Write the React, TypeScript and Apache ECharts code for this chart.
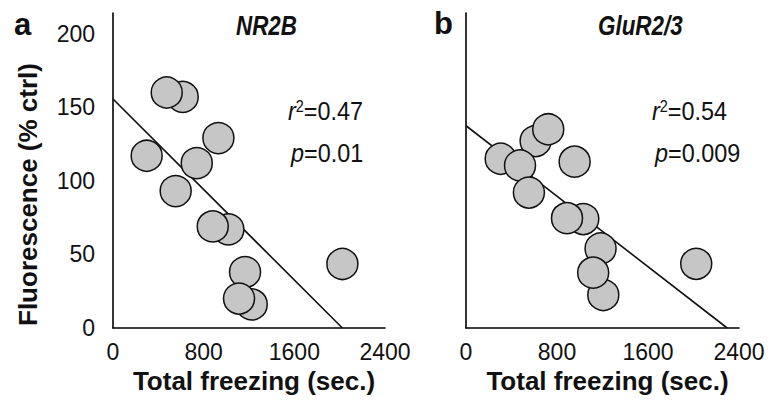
import React, { useEffect, useRef } from "react";
import * as echarts from "echarts";

// NR2B panel (a)
const nr2bFreezing = [615, 474, 930, 297, 739, 553, 1018, 880, 2024, 1165, 1224, 1112];
const nr2bFluor = [157, 160, 129, 117, 112, 93, 67, 69, 43.5, 38, 16, 20];
const nr2bFitX = [0, 2024];
const nr2bFitY = [155.6, 0];

// GluR2/3 panel (b)
const gluFreezing = [612, 723, 305, 475, 955, 553, 1031, 888, 1207, 1183, 1118, 2024];
const gluFluor = [127, 135, 115, 110.4, 113, 92, 74, 74.6, 22.4, 54, 37.6, 43.6];
const gluFitX = [0, 2296];
const gluFitY = [137.4, 0];

const xTicks = [0, 800, 1600, 2400];
const yTicks = [0, 50, 100, 150, 200];
const panelTitles = ["NR2B", "GluR2/3"];
const panelLetters = ["a", "b"];
const stats = [
  { r2: "0.47", p: "0.01" },
  { r2: "0.54", p: "0.009" },
];

const SANS = "'Liberation Sans', Arial, sans-serif";

export default function App() {
  const ref = useRef<HTMLDivElement>(null);
  useEffect(() => {
    if (!ref.current) return;
    const chart = echarts.init(ref.current, null, { renderer: "svg" });
    const axisLine = { show: true, lineStyle: { color: "#000", width: 1.6 } };
    const mkX = (gridIndex: number) => ({
      type: "value",
      gridIndex,
      min: xTicks[0],
      max: xTicks[xTicks.length - 1],
      interval: 800,
      axisLine,
      axisTick: { show: false },
      splitLine: { show: false },
      axisLabel: {
        fontFamily: SANS,
        fontSize: 23,
        color: "#111",
        margin: 12,
        formatter: (v: number) => String(v),
      },
      name: "Total freezing (sec.)",
      nameLocation: "middle",
      nameGap: 40,
      nameTextStyle: { fontFamily: SANS, fontWeight: "bold", fontSize: 26, color: "#111", padding: [0, 0, 0, 10] },
    });
    const mkY = (gridIndex: number, showLabels: boolean) => ({
      type: "value",
      gridIndex,
      min: 0,
      max: 214,
      interval: 50,
      axisLine,
      axisTick: { show: false },
      splitLine: { show: false },
      axisLabel: {
        show: showLabels,
        showMaxLabel: false,
        fontFamily: SANS,
        fontSize: 23,
        color: "#111",
        margin: 18,
        formatter: (v: number) => (yTicks.includes(v) ? String(v) : ""),
      },
      name: showLabels ? "Fluorescence (% ctrl)" : "",
      nameLocation: "middle",
      nameGap: 72,
      nameTextStyle: { fontFamily: SANS, fontWeight: "bold", fontSize: 26, color: "#111", padding: [0, 48, 0, 0] },
    });
    const scatter = (xs: number[], ys: number[], idx: number) => ({
      type: "scatter",
      xAxisIndex: idx,
      yAxisIndex: idx,
      symbol: "circle",
      symbolSize: 31,
      z: 3,
      itemStyle: { color: "#c6c6c6", borderColor: "#111", borderWidth: 1.5, opacity: 1 },
      data: xs.map((x, i) => [x, ys[i]]),
    });
    const fit = (xs: number[], ys: number[], idx: number) => ({
      type: "line",
      xAxisIndex: idx,
      yAxisIndex: idx,
      symbol: "none",
      z: 2,
      lineStyle: { color: "#111", width: 1.6 },
      data: xs.map((x, i) => [x, ys[i]]),
    });
    const statText = (s: { r2: string; p: string }, x: number) => [
      {
        type: "text",
        x: x,
        y: 98,
        scaleX: 0.9,
        style: {
          text: "{i|r}{sup|2}{n|=" + s.r2 + "}",
          rich: {
            i: { fontFamily: SANS, fontStyle: "italic", fontSize: 26, fill: "#111" },
            sup: { fontFamily: SANS, fontSize: 16, fill: "#111", verticalAlign: "top", padding: [0, 0, 10, 0] },
            n: { fontFamily: SANS, fontSize: 26, fill: "#111" },
          },
        },
      },
      {
        type: "text",
        x: x + 3,
        y: 140,
        scaleX: 0.9,
        style: {
          text: "{i|p}{n|=" + s.p + "}",
          rich: {
            i: { fontFamily: SANS, fontStyle: "italic", fontSize: 26, fill: "#111" },
            n: { fontFamily: SANS, fontSize: 26, fill: "#111" },
          },
        },
      },
    ];
    const titleStyle = (t: string) => ({
      text: t,
      fontFamily: SANS,
      fontStyle: "italic",
      fontWeight: "bold",
      fontSize: 28,
      fill: "#111",
    });
    chart.setOption({
      animation: false,
      backgroundColor: "#fff",
      grid: [
        { left: 113, top: 13, width: 272, height: 315 },
        { left: 466, top: 13, width: 273, height: 315 },
      ],
      xAxis: [mkX(0), mkX(1)],
      yAxis: [mkY(0, true), mkY(1, false)],
      series: [
        fit(nr2bFitX, nr2bFitY, 0),
        scatter(nr2bFreezing, nr2bFluor, 0),
        fit(gluFitX, gluFitY, 1),
        scatter(gluFreezing, gluFluor, 1),
      ],
      graphic: [
        { type: "text", x: 236, y: 11, scaleX: 0.8, style: titleStyle(panelTitles[0]) },
        { type: "text", x: 598, y: 11, scaleX: 0.8, style: titleStyle(panelTitles[1]) },
        {
          type: "text",
          x: 14,
          y: 9,
          style: { text: panelLetters[0], fontFamily: SANS, fontWeight: "bold", fontSize: 31, fill: "#111" },
        },
        {
          type: "text",
          x: 434,
          y: 8,
          style: { text: panelLetters[1], fontFamily: SANS, fontWeight: "bold", fontSize: 31, fill: "#111" },
        },
        ...statText(stats[0], 288),
        ...statText(stats[1], 652),
      ],
    });
    return () => chart.dispose();
  }, []);
  return (
    <div
      ref={ref}
      style={{ position: "absolute", left: 0, top: 0, width: 768, height: 416, background: "#fff" }}
    />
  );
}
